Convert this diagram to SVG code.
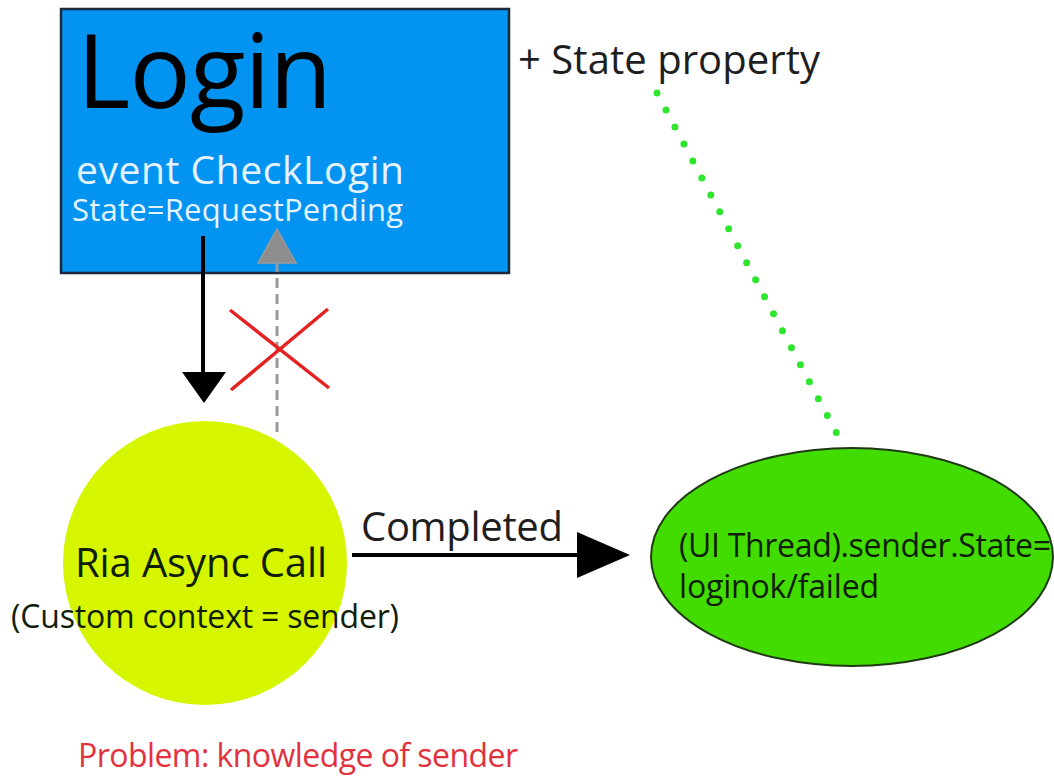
<svg xmlns="http://www.w3.org/2000/svg" width="1054" height="780" viewBox="0 0 1054 780">
<style>
text{font-family:"Open Sans","Noto Sans","DejaVu Sans",sans-serif;}
.dark{fill:#1e1e1e;}
.white{fill:#e4f3ff;}
.node-text{fill:#101e08;}
.blk{stroke:#000;stroke-width:4;fill:none;}
</style>
<rect width="1054" height="780" fill="#ffffff"/>
<g id="login">
<rect x="61" y="9" width="448" height="264" fill="#0393f1" stroke="#1b2a3c" stroke-width="2.5"/>
<text x="77" y="108" font-size="102" fill="#000" textLength="255">Login</text>
<text x="76" y="184" font-size="39" class="white" textLength="328">event CheckLogin</text>
<text x="72" y="221" font-size="31" class="white" textLength="331">State=RequestPending</text>
</g>
<g id="state-property">
<text x="518" y="74" font-size="40" class="dark" textLength="302">+ State property</text>
</g>
<g id="ria">
<circle cx="205" cy="563" r="142" fill="#d6f600"/>
<text x="75" y="577" font-size="40" class="node-text" textLength="252">Ria Async Call</text>
<text x="11" y="628" font-size="32" class="node-text" textLength="388">(Custom context = sender)</text>
</g>
<g id="ui-thread">
<ellipse cx="852" cy="557" rx="201" ry="109" fill="#42dc00" stroke="#1f3a14" stroke-width="2"/>
<text x="679" y="557" font-size="32" class="node-text" textLength="372">(UI Thread).sender.State=</text>
<text x="679" y="598" font-size="32" class="node-text" textLength="200">loginok/failed</text>
</g>
<g id="problem">
<text x="78" y="767" font-size="32" fill="#e2323e" textLength="440">Problem: knowledge of sender</text>
</g>
<g id="connectors">
<line x1="203" y1="236" x2="203" y2="376" class="blk"/>
<polygon points="182,372 226,372 204,403" fill="#000"/>
<line x1="277" y1="432" x2="277" y2="262" stroke="#9a9a9a" stroke-width="3" stroke-dasharray="10 6"/>
<polygon points="258,263 296,263 277,229" fill="#8e8e8e" stroke="#9a9a9a" stroke-width="1.5"/>
<line x1="230" y1="310" x2="329" y2="388" stroke="#e52222" stroke-width="3.5"/>
<line x1="328" y1="309" x2="231" y2="390" stroke="#e52222" stroke-width="3.5"/>
<line x1="352" y1="555" x2="582" y2="555" class="blk"/>
<polygon points="577,532 577,578 630,555" fill="#000"/>
<text x="361" y="541" font-size="40" class="dark" textLength="202">Completed</text>
<line x1="657" y1="93" x2="837" y2="434" stroke="#2fe62f" stroke-width="7" stroke-linecap="round" stroke-dasharray="0 19.2"/>
</g>
</svg>
